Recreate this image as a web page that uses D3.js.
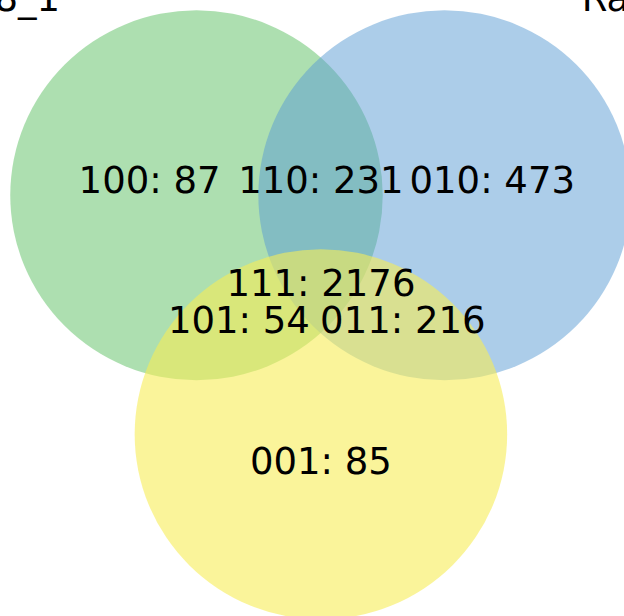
<!DOCTYPE html>
<html>
<head>
<meta charset="utf-8">
<script src="https://cdn.jsdelivr.net/npm/d3@7"></script>
<style>
  html, body { margin: 0; padding: 0; background: #fff; overflow: hidden; }
  text { font-family: "DejaVu Sans", sans-serif; }
</style>
</head>
<body>
<div id="chart"></div>
<script>
// set names (only the first two are partly visible in the picture)
var setNames = ["Sample_8_1", "Rat"];
var setColors = ["rgb(92,192,98)", "rgb(90,155,212)", "rgb(246,236,86)"];
var setAlpha = [0.5, 0.5, 0.6];

// region counts
var regionKeys = ["001", "010", "011", "100", "101", "110", "111"];
var regionCounts = [85, 473, 216, 87, 54, 231, 2176];

// layout in unit coords (pyvenn style)
var circleCenters = [[0.333, 0.633], [0.666, 0.633], [0.500, 0.310]];
var circleR = 0.25;
var labelPos = {
  "001": [0.50, 0.27], "010": [0.73, 0.65], "011": [0.61, 0.46],
  "100": [0.27, 0.65], "101": [0.39, 0.46], "110": [0.50, 0.65],
  "111": [0.50, 0.51]
};
var namePos = [[0.15, 0.87, "end"], [0.85, 0.87, "start"]];

var width = 624, height = 616;
var ux = 745, uy = 740;
var fontSize = 37;

var svg = d3.select("#chart").append("svg")
  .attr("width", width)
  .attr("height", height);

// unit square -> pixels (plot is cropped by the window)
var x = d3.scaleLinear().domain([0, 1]).range([196.5 - 0.333 * ux, 196.5 + 0.667 * ux]);
var y = d3.scaleLinear().domain([0, 1]).range([195.3 + 0.633 * uy, 195.3 - 0.367 * uy]);

svg.selectAll("ellipse")
  .data(circleCenters)
  .enter()
  .append("ellipse")
  .attr("cx", d => x(d[0]))
  .attr("cy", d => y(d[1]))
  .attr("rx", x(circleR) - x(0))
  .attr("ry", y(0) - y(circleR))
  .attr("fill", (d, i) => setColors[i])
  .attr("fill-opacity", (d, i) => setAlpha[i]);

// region labels
svg.selectAll("text.region")
  .data(regionKeys)
  .enter()
  .append("text")
  .attr("class", "region")
  .attr("x", d => x(labelPos[d][0]))
  .attr("y", d => y(labelPos[d][1]))
  .attr("dy", "0.265em")
  .attr("text-anchor", "middle")
  .attr("font-size", fontSize + "px")
  .attr("fill", "#000")
  .text((d, i) => d + ": " + regionCounts[i]);

// set names
svg.selectAll("text.name")
  .data(setNames)
  .enter()
  .append("text")
  .attr("class", "name")
  .attr("x", (d, i) => x(namePos[i][0]))
  .attr("y", (d, i) => y(namePos[i][1]))
  .attr("dy", "-0.23em")
  .attr("text-anchor", (d, i) => namePos[i][2])
  .attr("font-size", fontSize + "px")
  .attr("fill", "#000")
  .text(d => d);
</script>
</body>
</html>
